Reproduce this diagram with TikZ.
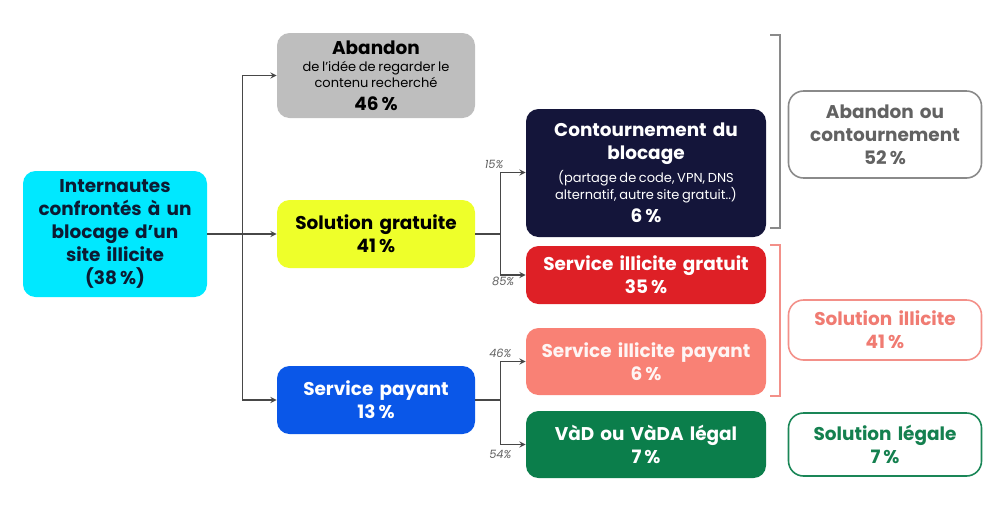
\documentclass[tikz,border=0pt]{standalone}
\usepackage{fontspec}
\setmainfont{Poppins}[WordSpace=0.8]
\usepackage{tikz}
\usetikzlibrary{arrows,positioning}
\definecolor{cyanB}{HTML}{00E8FF}
\definecolor{grayB}{HTML}{BEBEBE}
\definecolor{yellowB}{HTML}{EEFF2A}
\definecolor{blueB}{HTML}{0A57E8}
\definecolor{navyB}{HTML}{14153A}
\definecolor{redB}{HTML}{DE2026}
\definecolor{salmonB}{HTML}{F98175}
\definecolor{greenB}{HTML}{0B7E4B}
\definecolor{navyT}{HTML}{0C1B33}
\definecolor{grayO}{HTML}{8A8A8A}
\definecolor{grayT}{HTML}{626262}
\definecolor{salmonO}{HTML}{F39089}
\definecolor{salmonT}{HTML}{F07B72}
\definecolor{greenO}{HTML}{1A8657}
\definecolor{greenT}{HTML}{14804F}
\definecolor{lineC}{HTML}{474747}
\tikzstyle{recNode} = [rectangle, align=center, rounded corners=0.25cm, inner sep=2pt, font=\bfseries\fontsize{10.5}{13}\selectfont]
\tikzstyle{midNode} = [recNode, minimum width=3.96cm, text width=3.8cm]
\tikzstyle{endNode} = [recNode, minimum width=4.8cm, text width=4.6cm, text=white]
\tikzstyle{sumNode} = [recNode, minimum width=3.86cm, text width=3.7cm, rounded corners=0.3cm, line width=0.9pt, fill=white]
\tikzstyle{arrow} = [->,>=stealth,draw=lineC,line width=0.6pt]
\tikzstyle{pct} = [font=\itshape\fontsize{6.5}{8}\selectfont, text=grayT, inner sep=1pt]
\newcommand{\smalltxt}[1]{{\mdseries\fontsize{7.4}{8.8}\selectfont\centering\spaceskip=1.5pt\rule{0pt}{9pt}#1\par}}
\begin{document}
\begin{tikzpicture}[node distance=2cm]
    \useasboundingbox (0,0) rectangle (20.06,-10.24);
    \node (start) [recNode, fill=cyanB, text=navyT, minimum width=3.68cm, minimum height=2.52cm, text width=3.4cm] at (2.30,-4.68) {Internautes\\confrontés à un\\blocage d'un\\site illicite\\(38\,\%)};
    \node (gratuite) [midNode, fill=yellowB, minimum height=1.36cm, right of=start, xshift=3.22cm] {Solution gratuite\\41\,\%};
    \node (abandon) [midNode, fill=grayB, minimum height=1.70cm, above of=gratuite, yshift=1.17cm] {Abandon\\\smalltxt{de l'idée de regarder le\\contenu recherché}46\,\%};
    \node (payant) [midNode, fill=blueB, text=white, minimum height=1.36cm, below of=gratuite, yshift=-1.32cm] {Service payant\\13\,\%};
    \node (contour) [endNode, fill=navyB, minimum height=2.56cm, right of=gratuite, xshift=3.4cm, yshift=1.22cm] {Contournement du\\blocage\\\smalltxt{(partage de code, VPN, DNS\\alternatif, autre site gratuit..)}6\,\%};
    \node (illgrat) [endNode, fill=redB, minimum height=1.16cm, below of=contour, yshift=-0.04cm] {Service illicite gratuit\\35\,\%};
    \node (illpay) [endNode, fill=salmonB, text=white!92!salmonB, minimum height=1.34cm, right of=payant, xshift=3.4cm, yshift=0.77cm] {Service illicite payant\\6\,\%};
    \node (vad) [endNode, fill=greenB, minimum height=1.34cm, below of=illpay, yshift=0.34cm] {VàD ou VàDA légal\\7\,\%};
    \node (abcont) [sumNode, draw=grayO, text=grayT, minimum height=1.74cm, right of=contour, xshift=2.78cm, yshift=0.77cm] {Abandon ou\\contournement\\52\,\%};
    \node (solill) [sumNode, draw=salmonO, text=salmonT, minimum height=1.20cm, right of=illgrat, xshift=2.78cm, yshift=-1.1cm] {Solution illicite\\41\,\%};
    \node (solleg) [sumNode, draw=greenO, text=greenT, minimum height=1.26cm, right of=vad, xshift=2.78cm] {Solution légale\\7\,\%};

    \coordinate (split) at ([xshift=0.7cm]start.east);
    \coordinate (gsplit) at ([xshift=0.5cm]gratuite.east);
    \coordinate (psplit) at ([xshift=0.5cm]payant.east);

    \draw [arrow] (start.east) -- (split) |- (abandon.west);
    \draw [arrow] (start.east) -- (gratuite.west);
    \draw [arrow] (split) |- (payant.west);

    \draw [arrow] (gratuite.east) -- (gsplit) |- node[pos=0.5, pct, above left=1pt and -3pt] {15\%} ([yshift=0.01cm]contour.west);
    \draw [arrow] (gsplit) |- node[pos=0.5, pct, below right=0pt and -6pt] {85\%} (illgrat.west);
    \draw [arrow] (payant.east) -- (psplit) |- node[pos=0.5, pct, above=1pt] {46\%} (illpay.west);
    \draw [arrow] (psplit) |- node[pos=0.5, pct, below=2pt] {54\%} (vad.west);

    % brackets
    \draw [grayO, line width=0.6pt] (15.40,-0.70) -- (15.60,-0.70) -- (15.60,-4.56) -- (15.40,-4.56);
    \draw [salmonO, line width=0.6pt] (15.40,-4.90) -- (15.60,-4.90) -- (15.60,-7.92) -- (15.40,-7.92);
\end{tikzpicture}
\end{document}
